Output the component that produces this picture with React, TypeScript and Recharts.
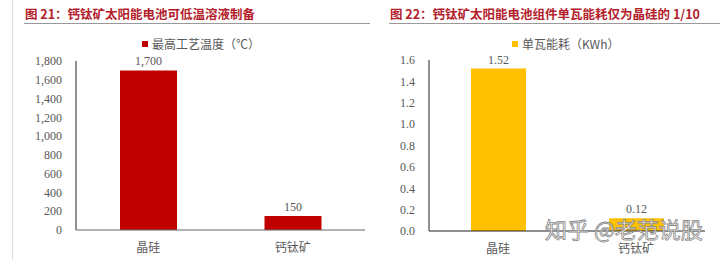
import { BarChart, Bar, XAxis, YAxis, LabelList } from "recharts";

const categories = ["晶硅", "钙钛矿"];
const tempValues = [1700, 150];
const energyValues = [1.52, 0.12];
const tempTicks = [0, 200, 400, 600, 800, 1000, 1200, 1400, 1600, 1800];
const energyTicks = [0, 0.2, 0.4, 0.6, 0.8, 1.0, 1.2, 1.4, 1.6];

const tempData = categories.map((name, i) => ({ name, value: tempValues[i] }));
const energyData = categories.map((name, i) => ({ name, value: energyValues[i] }));

const RED = "#C00000";
const YELLOW = "#FFC000";
const TITLE = "#B3202A";
const GRAY = "#595959";
const SERIF = "'Liberation Serif', 'Times New Roman', serif";
const CJK = "'Noto Sans CJK SC', sans-serif";

const tickStyle = { fontFamily: SERIF, fontSize: 12, fill: GRAY };
const catStyle = { fontFamily: CJK, fontSize: 12, fill: GRAY };

const LegendItem = ({ left, color, text }: { left: number; color: string; text: string }) => (
  <div
    style={{
      position: "absolute",
      left,
      top: 36,
      display: "flex",
      alignItems: "center",
      fontFamily: CJK,
      fontSize: 12,
      lineHeight: "16px",
      color: GRAY,
      whiteSpace: "nowrap",
    }}
  >
    <span style={{ width: 6, height: 6, background: color, marginRight: 4 }} />
    {text}
  </div>
);

const Title = ({ left, text }: { left: number; text: string }) => (
  <div
    style={{
      position: "absolute",
      left,
      top: 4,
      fontFamily: CJK,
      fontWeight: 700,
      fontSize: 12.5,
      color: TITLE,
      whiteSpace: "nowrap",
    }}
  >
    {text}
  </div>
);

export default function App() {
  return (
    <div
      style={{
        position: "fixed",
        left: 0,
        top: 0,
        width: 720,
        height: 260,
        background: "#fff",
        overflow: "hidden",
      }}
    >
      {/* frame lines */}
      <div style={{ position: "absolute", left: 12, top: 0, width: 1, height: 260, background: "#ddd" }} />
      <div style={{ position: "absolute", left: 24, top: 23, width: 346, height: 1, background: "#999" }} />
      <div style={{ position: "absolute", left: 389, top: 23, width: 331, height: 1, background: "#999" }} />

      <Title left={25} text="图 21：钙钛矿太阳能电池可低温溶液制备" />
      <Title left={390} text="图 22：钙钛矿太阳能电池组件单瓦能耗仅为晶硅的 1/10" />

      <div style={{ position: "absolute", left: 0, top: 0 }}>
        <BarChart
          width={365}
          height={260}
          data={tempData}
          margin={{ top: 61, right: 0, bottom: 0, left: 0 }}
        >
          <YAxis
            width={76}
            domain={[0, 1800]}
            ticks={tempTicks}
            interval={0}
            tickLine={false}
            tickMargin={8}
            axisLine={{ stroke: "#222" }}
            tick={tickStyle}
            tickFormatter={(v: number) => v.toLocaleString("en-US")}
          />
          <XAxis
            dataKey="name"
            height={30}
            tickLine={false}
            tickMargin={7}
            axisLine={{ stroke: "#666" }}
            tick={catStyle}
          />
          <Bar dataKey="value" fill={RED} barSize={57} isAnimationActive={false}>
            <LabelList
              dataKey="value"
              position="top"
              style={tickStyle}
              formatter={(v: number) => v.toLocaleString("en-US")}
            />
          </Bar>
        </BarChart>
      </div>
      <LegendItem left={142} color={RED} text="最高工艺温度（℃）" />

      <div style={{ position: "absolute", left: 365, top: 0 }}>
        <BarChart
          width={355}
          height={260}
          data={energyData}
          margin={{ top: 60, right: 15, bottom: 0, left: 0 }}
        >
          <YAxis
            width={64}
            domain={[0, 1.6]}
            ticks={energyTicks}
            interval={0}
            tickLine={false}
            tickMargin={8}
            axisLine={{ stroke: "#222" }}
            tick={tickStyle}
            tickFormatter={(v: number) => v.toFixed(1)}
          />
          <XAxis
            dataKey="name"
            height={29}
            tickLine={false}
            tickMargin={7}
            axisLine={{ stroke: "#222" }}
            tick={catStyle}
          />
          <Bar dataKey="value" fill={YELLOW} barSize={55} isAnimationActive={false}>
            <LabelList
              dataKey="value"
              position="top"
              style={tickStyle}
              formatter={(v: number) => v.toFixed(2)}
            />
          </Bar>
        </BarChart>
      </div>
      <LegendItem left={512} color={YELLOW} text="单瓦能耗（KWh）" />

      {/* source watermark */}
      <div
        style={{
          position: "absolute",
          left: 545,
          top: 212,
          fontFamily: CJK,
          fontSize: 22,
          color: "rgba(255,255,255,0.85)",
          WebkitTextStroke: "0.8px #888",
          whiteSpace: "nowrap",
        }}
      >
        知乎 @老范说股
      </div>
    </div>
  );
}
